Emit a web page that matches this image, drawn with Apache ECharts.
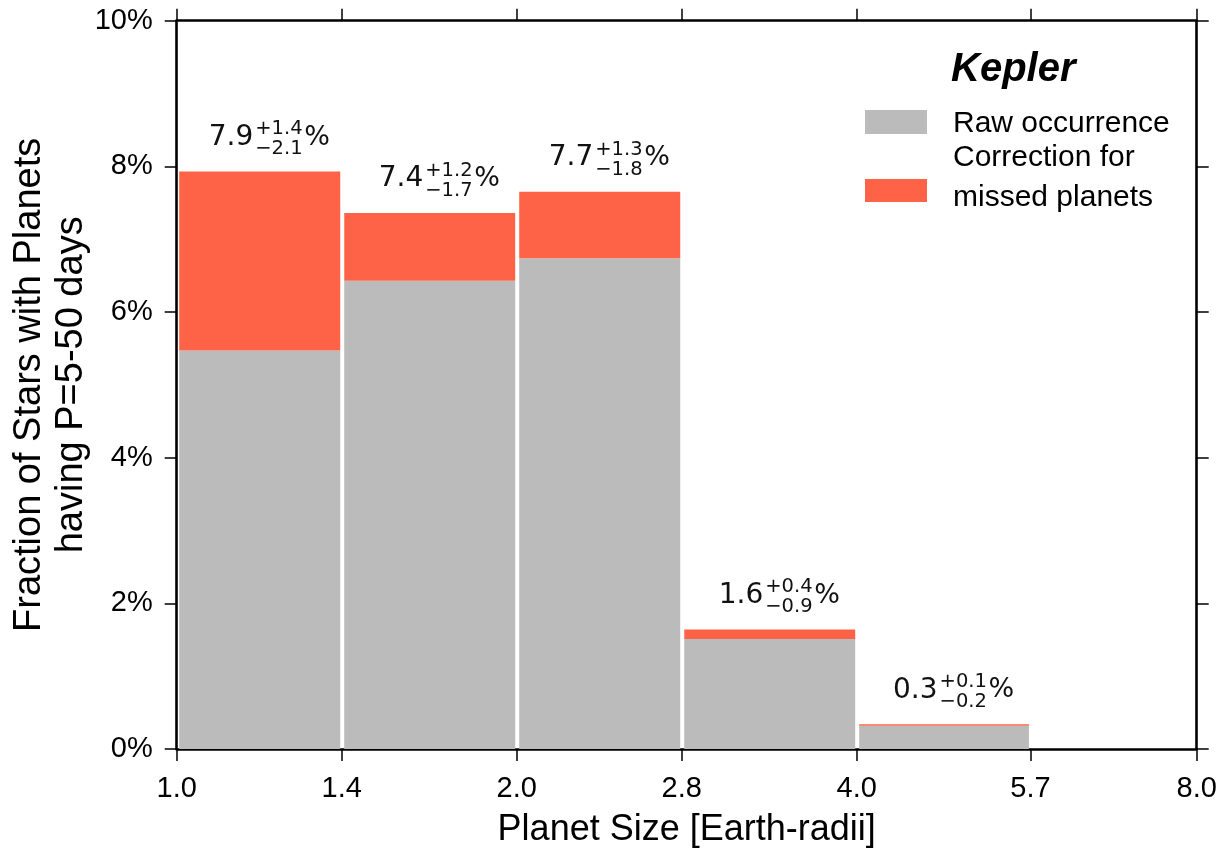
<!DOCTYPE html>
<html><head><meta charset="utf-8">
<script src="https://cdn.jsdelivr.net/npm/echarts@6/dist/echarts.min.js"></script>
<style>html,body{margin:0;padding:0;background:#fff}#c{width:1221px;height:854px}</style>
</head><body><div id="c"></div>
<script>
// ---- data ----
const binEdges = [1.0, 1.4, 2.0, 2.8, 4.0, 5.7, 8.0];
const edgeLabels = ['1.0', '1.4', '2.0', '2.8', '4.0', '5.7', '8.0'];
const rawOccurrence = [5.47, 6.43, 6.74, 1.51, 0.32];
const correction = [2.46, 0.93, 0.91, 0.13, 0.02];
const occurrenceText = ['7.9', '7.4', '7.7', '1.6', '0.3'];
const errPlus = ['+1.4', '+1.2', '+1.3', '+0.4', '+0.1'];
const errMinus = ['\u22122.1', '\u22121.7', '\u22121.8', '\u22120.9', '\u22120.2'];
const seriesNames = ['Raw occurrence', 'Correction for\nmissed planets'];
const yMax = 10, yStep = 2;

const GRAY = '#BBBBBB', RED = '#FF6347';
const SANS = '"Liberation Sans", Arial, Helvetica, sans-serif';
const LBL = '"DejaVu Sans", sans-serif';

const logEdges = binEdges.map(v => Math.log10(v));
const binData = rawOccurrence.map((r, i) => [logEdges[i], logEdges[i + 1], r, correction[i]]);

function edgeLabel(v) {
  let best = 0, d = Infinity;
  logEdges.forEach((e, i) => { const dd = Math.abs(e - v); if (dd < d) { d = dd; best = i; } });
  return edgeLabels[best];
}

const axisLine = { show: true, onZero: false, lineStyle: { color: '#000', width: 2.6 } };
const tick = { show: true, inside: false, length: 12, lineStyle: { color: '#000', width: 1.5 } };

const xBase = {
  type: 'value', min: logEdges[0], max: logEdges[logEdges.length - 1],
  axisLine: axisLine, splitLine: { show: false },
  axisTick: Object.assign({ customValues: logEdges }, tick),
};
const yBase = {
  type: 'value', min: 0, max: yMax, interval: yStep,
  axisLine: axisLine, splitLine: { show: false }, axisTick: tick,
};

const chart = echarts.init(document.getElementById('c'), null, { renderer: 'canvas' });
chart.setOption({
  animation: false,
  backgroundColor: '#fff',
  grid: { left: 176.7, right: 24.3, top: 20.7, bottom: 105, containLabel: false, outerBoundsMode: 'none' },
  xAxis: [
    Object.assign({}, xBase, {
      position: 'bottom',
      axisLabel: { customValues: logEdges, formatter: edgeLabel, fontFamily: SANS, fontSize: 29, color: '#000', margin: 25 },
      name: 'Planet Size [Earth-radii]', nameLocation: 'middle', nameGap: 63, nameMoveOverlap: false,
      nameTextStyle: { fontFamily: SANS, fontSize: 36, color: '#000' }
    }),
    Object.assign({}, xBase, { position: 'top', axisLabel: { show: false } })
  ],
  yAxis: [
    Object.assign({}, yBase, {
      position: 'left',
      axisLabel: { formatter: '{value}%', fontFamily: SANS, fontSize: 29, color: '#000', margin: 24 },
      name: 'Fraction of Stars with Planets\nhaving P=5-50 days', nameLocation: 'middle', nameGap: 84, nameMoveOverlap: false,
      nameTextStyle: { fontFamily: SANS, fontSize: 38, lineHeight: 42, color: '#000' }
    }),
    Object.assign({}, yBase, { position: 'right', axisLabel: { show: false } })
  ],
  series: [
    {
      name: seriesNames[0], type: 'custom', xAxisIndex: 0, yAxisIndex: 0,
      data: binData, encode: { x: [0, 1], y: 2 },
      renderItem: function (params, api) {
        const x0 = api.value(0), x1 = api.value(1), r = api.value(2), c = api.value(3);
        const bl = api.coord([x0, 0]), tr = api.coord([x1, r]);
        const ct = api.coord([x1, r + c]);
        const left = bl[0] + 2.5, right = tr[0] - 1.5;
        return {
          type: 'group', children: [
            { type: 'rect', shape: { x: left, y: tr[1], width: right - left, height: bl[1] - tr[1] }, style: { fill: GRAY } },
            { type: 'rect', shape: { x: left, y: ct[1], width: right - left, height: tr[1] - ct[1] }, style: { fill: RED } }
          ]
        };
      }
    },
    {
      name: 'labels', type: 'custom', xAxisIndex: 0, yAxisIndex: 0, silent: true,
      data: binData, encode: { x: [0, 1], y: 2 },
      renderItem: function (params, api) {
        const i = params.dataIndex;
        const x0 = api.value(0), x1 = api.value(1), r = api.value(2), c = api.value(3);
        const p = api.coord([(x0 + x1) / 2, r + c]);
        const cx = p[0], base = p[1] - 24;
        return {
          type: 'group', children: [
            { type: 'text', style: { x: cx - 6, y: base - 9.8, text: occurrenceText[i], font: '28px ' + LBL, fill: '#111', align: 'right', verticalAlign: 'middle' } },
            { type: 'text', style: { x: cx - 4, y: base - 11.6 - 6.8, text: errPlus[i], font: '19.5px ' + LBL, fill: '#111', align: 'left', verticalAlign: 'middle' } },
            { type: 'text', style: { x: cx - 4, y: base + 8.4 - 6.8, text: errMinus[i], font: '19.5px ' + LBL, fill: '#111', align: 'left', verticalAlign: 'middle' } },
            { type: 'text', style: { x: cx + 45, y: base - 9.8, text: '%', font: '27px ' + LBL, fill: '#111', align: 'left', verticalAlign: 'middle' } }
          ]
        };
      }
    }
  ],
  graphic: [
    { type: 'text', style: { x: 951, y: 70, text: 'Kepler', font: 'italic bold 40px ' + SANS, fill: '#000', align: 'left', verticalAlign: 'middle' } },
    { type: 'rect', shape: { x: 865, y: 110, width: 62, height: 24 }, style: { fill: GRAY } },
    { type: 'text', style: { x: 953, y: 123.5, text: seriesNames[0], font: '30px ' + SANS, fill: '#000', align: 'left', verticalAlign: 'middle' } },
    { type: 'rect', shape: { x: 865, y: 179, width: 62, height: 23 }, style: { fill: RED } },
    { type: 'text', style: { x: 953, y: 178, text: seriesNames[1], font: '30px ' + SANS, lineHeight: 40, fill: '#000', align: 'left', verticalAlign: 'middle' } }
  ]
});
</script>
</body></html>
